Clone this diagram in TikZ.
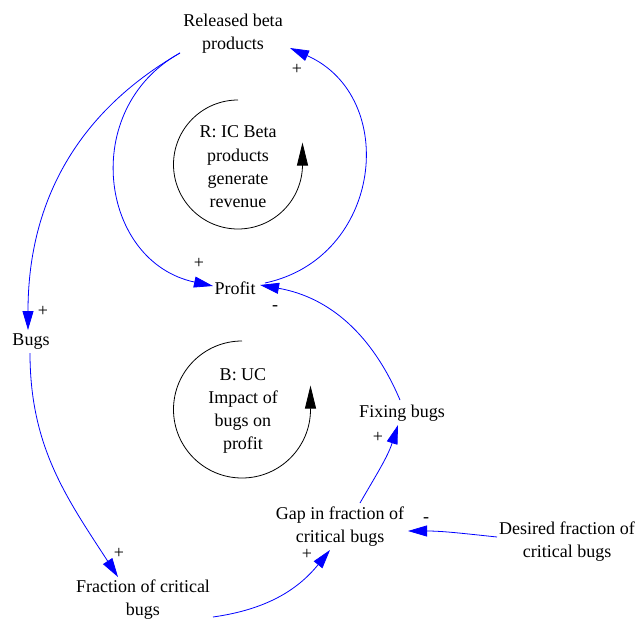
\documentclass[tikz,border=0pt]{standalone}
\usepackage{fontspec}
\setmainfont{Liberation Serif}
\usetikzlibrary{arrows.meta}
\definecolor{linkblue}{RGB}{0,0,255}
\tikzset{
  var/.style={align=center, inner sep=2pt, font=\fontsize{18}{23}\selectfont},
  loopname/.style={align=center, inner sep=2pt, font=\fontsize{18}{23.3}\selectfont},
  polarity/.style={anchor=base, inner sep=0pt, font=\fontsize{18}{23}\selectfont},
  link/.style={draw=linkblue, line width=0.8pt, -{Triangle[length=19pt,width=11pt]}},
  looparc/.style={draw=black, line width=0.8pt, -{Triangle[length=23pt,width=11pt]}}
}
\begin{document}
\begin{tikzpicture}[x=1pt,y=1pt]
\useasboundingbox (0,0) rectangle (638,-621);

% variables
\node[var] (rb)      at (233,-34)  {Released beta\\products};
\node[var] (profit)  at (235,-288) {Profit};
\node[var] (bugs)    at (31,-342)  {Bugs};
\node[var] (fcb)     at (143,-600) {Fraction of critical\\bugs};
\node[var] (fix)     at (402,-413) {Fixing bugs};
\node[var] (gap)     at (340,-527) {Gap in fraction of\\critical bugs};
\node[var] (desired) at (567,-542) {Desired fraction of\\critical bugs};

% loop labels
\node[loopname] (rloop) at (238,-167) {R: IC Beta\\products\\generate\\revenue};
\node[loopname] (bloop) at (243,-411) {B: UC\\Impact of\\bugs on\\profit};

% loop direction arcs
\draw[looparc] ([yshift=67pt]rloop.center) arc[start angle=90, end angle=360, radius=64.5pt] -- ++(0,22);
\draw[looparc] ([shift={(-1pt,70pt)}]bloop.center) arc[start angle=90, end angle=360, radius=68.5pt] -- ++(0,24);

% causal links
\draw[link] ([shift={(-53pt,-19pt)}]rb.center) to[out=209, in=168, looseness=1.26] ([shift={(-22pt,2pt)}]profit.center);
\draw[link] ([shift={(30pt,5pt)}]profit.center) to[out=12, in=-24, looseness=1.3] ([shift={(57pt,-14pt)}]rb.center);
\draw[link] ([shift={(-53pt,-19pt)}]rb.center) to[out=210, in=90, looseness=1] ([shift={(-3pt,12pt)}]bugs.center);
\draw[link] ([shift={(-1pt,-11pt)}]bugs.center) to[out=-90, in=123, looseness=1] ([shift={(-25pt,23pt)}]fcb.center);
\draw[link] ([shift={(70pt,-17pt)}]fcb.center) to[out=8, in=231, looseness=1] ([shift={(-10pt,-23pt)}]gap.center);
\draw[link] ([shift={(-70pt,5pt)}]desired.center) to[out=174, in=0, looseness=1] ([shift={(68pt,-4pt)}]gap.center);
\draw[link] ([shift={(20pt,24pt)}]gap.center) to[out=60, in=252, looseness=1] ([shift={(-4pt,-12pt)}]fix.center);
\draw[link] ([shift={(-2pt,13pt)}]fix.center) to[out=113, in=-10, looseness=1] ([shift={(25pt,3pt)}]profit.center);

% polarities
\node[polarity] (p1) at (297,-74)  {+};
\node[polarity] (p2) at (199,-268) {+};
\node[polarity] (p3) at (275,-310) {-};
\node[polarity] (p4) at (43,-316)  {+};
\node[polarity] (p5) at (119,-558) {+};
\node[polarity] (p6) at (378,-442) {+};
\node[polarity] (p7) at (426,-522) {-};
\node[polarity] (p8) at (307,-559) {+};
\end{tikzpicture}
\end{document}
